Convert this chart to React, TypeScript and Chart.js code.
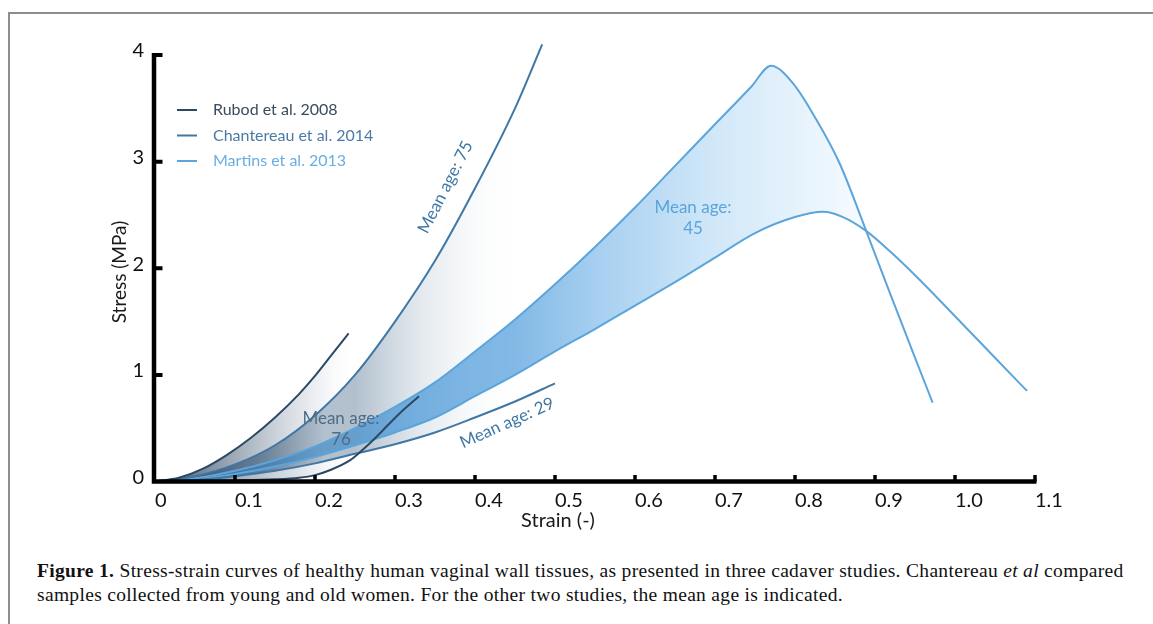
import React, { useEffect, useRef } from "react";
import { Chart, registerables } from "chart.js";
Chart.register(...registerables);

// ---- data ----
const seriesNames = ["Rubod et al. 2008", "Chantereau et al. 2014", "Martins et al. 2013"];
const xTickValues = [0, 0.1, 0.2, 0.3, 0.4, 0.5, 0.6, 0.7, 0.8, 0.9, 1.0, 1.1];
const yTickValues = [0, 1, 2, 3, 4];

const rubodUpperStrain = [0, 0.03, 0.06, 0.09, 0.12, 0.15, 0.18, 0.2, 0.22, 0.242];
const rubodUpperStress = [0, 0.035, 0.12, 0.25, 0.41, 0.6, 0.82, 0.99, 1.18, 1.39];
const rubodLowerStrain = [0, 0.05, 0.1, 0.15, 0.18, 0.2, 0.22, 0.244, 0.26, 0.277, 0.29, 0.306, 0.33];
const rubodLowerStress = [0, 0.004, 0.01, 0.02, 0.035, 0.06, 0.11, 0.2, 0.3, 0.42, 0.52, 0.64, 0.8];

const chantOldStrain = [0, 0.05, 0.1, 0.15, 0.2, 0.25, 0.3, 0.35, 0.4, 0.45, 0.484];
const chantOldStress = [0, 0.05, 0.16, 0.34, 0.62, 1.0, 1.5, 2.07, 2.75, 3.5, 4.1];
const chantYoungStrain = [0, 0.05, 0.1, 0.15, 0.2, 0.25, 0.3, 0.35, 0.4, 0.45, 0.5];
const chantYoungStress = [0, 0.015, 0.05, 0.1, 0.17, 0.26, 0.35, 0.46, 0.6, 0.75, 0.92];

const martinsUpperStrain = [0, 0.05, 0.1, 0.15, 0.2, 0.25, 0.3, 0.35, 0.4, 0.45, 0.5, 0.55, 0.6, 0.65, 0.7, 0.745, 0.77, 0.798, 0.827, 0.856, 0.888, 0.92, 0.948, 0.972];
const martinsUpperStress = [0, 0.03, 0.1, 0.2, 0.33, 0.5, 0.7, 0.93, 1.22, 1.52, 1.85, 2.2, 2.57, 2.96, 3.35, 3.7, 3.9, 3.73, 3.39, 2.98, 2.37, 1.74, 1.2, 0.74];
const martinsLowerStrain = [0, 0.05, 0.1, 0.15, 0.2, 0.25, 0.3, 0.35, 0.4, 0.45, 0.5, 0.55, 0.6, 0.65, 0.7, 0.75, 0.8, 0.835, 0.86, 0.888, 0.92, 0.952, 1.0, 1.05, 1.09];
const martinsLowerStress = [0, 0.02, 0.07, 0.14, 0.23, 0.34, 0.46, 0.6, 0.8, 1.0, 1.22, 1.43, 1.65, 1.87, 2.1, 2.33, 2.48, 2.53, 2.48, 2.355, 2.15, 1.92, 1.55, 1.16, 0.85];
const martinsCrossStrain = 0.888;

// ---- styles ----
const RUBOD = "#2c4964";
const CHANT = "#3f77a5";
const MARTINS = "#5ba5db";
const FONT = "Lato, 'Open Sans', sans-serif";

const pts = (xs: number[], ys: number[]) => xs.map((x, i) => ({ x, y: ys[i] }));
const shape = (ux: number[], uy: number[], lx: number[], ly: number[], maxX = Infinity) => [
  ...pts(ux, uy).filter((p) => p.x <= maxX),
  ...pts(lx, ly).filter((p) => p.x <= maxX).reverse(),
];

const gradient = (c: any, x0: number, x1: number, stops: [number, string][]) => {
  const chart = c.chart;
  if (!chart.chartArea) return "rgba(0,0,0,0)";
  const xs = chart.scales.x;
  const g = chart.ctx.createLinearGradient(xs.getPixelForValue(x0), 0, xs.getPixelForValue(x1), 0);
  stops.forEach(([o, col]) => g.addColorStop(o, col));
  return g;
};

const notes = [
  { lines: ["Mean age: 75"], x: 0.363, y: 2.76, angle: -63, color: CHANT },
  { lines: ["Mean age: 29"], x: 0.44, y: 0.55, angle: -24, color: CHANT },
  { lines: ["Mean age:", "76"], x: 0.2325, y: 0.49, angle: 0, color: "#4d6d87" },
  { lines: ["Mean age:", "45"], x: 0.6725, y: 2.467, angle: 0, color: MARTINS },
];
const legendColors = [RUBOD, CHANT, MARTINS];
const legendTextColors = ["#3a4b5d", "#4a7aa6", "#6aaee0"];

const overlay = {
  id: "overlay",
  afterDatasetsDraw(chart: any) {
    const { ctx, scales } = chart;
    const xs = scales.x;
    const ys = scales.y;
    const x0 = xs.getPixelForValue(0) - 1;
    const y0 = ys.getPixelForValue(0);
    const xEnd = xs.getPixelForValue(1.1);
    const yTop = ys.getPixelForValue(4);
    ctx.save();
    ctx.strokeStyle = "#000";
    ctx.lineCap = "butt";
    ctx.lineWidth = 4.5;
    ctx.beginPath();
    ctx.moveTo(x0, yTop - 2);
    ctx.lineTo(x0, y0 + 2.25);
    ctx.moveTo(x0 - 2.25, y0);
    ctx.lineTo(xEnd + 1.5, y0);
    ctx.stroke();
    ctx.lineWidth = 3.5;
    ctx.beginPath();
    xTickValues.forEach((v) => {
      if (v === 0) return;
      const p = xs.getPixelForValue(v);
      ctx.moveTo(p, y0);
      ctx.lineTo(p, y0 - 6.5);
    });
    ctx.stroke();
    ctx.lineWidth = 4;
    ctx.beginPath();
    yTickValues.forEach((v) => {
      if (v === 0) return;
      const p = ys.getPixelForValue(v);
      ctx.moveTo(x0, p);
      ctx.lineTo(x0 + 8.5, p);
    });
    ctx.stroke();

    // legend
    ctx.textAlign = "left";
    ctx.textBaseline = "middle";
    ctx.font = `16px ${FONT}`;
    seriesNames.forEach((name, i) => {
      const ly = 110 + i * 25.5;
      ctx.strokeStyle = legendColors[i];
      ctx.lineWidth = 2;
      ctx.beginPath();
      ctx.moveTo(177, ly);
      ctx.lineTo(197, ly);
      ctx.stroke();
      ctx.fillStyle = legendTextColors[i];
      ctx.fillText(name, 213, ly);
    });

    // annotations
    ctx.textAlign = "center";
    ctx.font = `17px ${FONT}`;
    notes.forEach((n) => {
      ctx.save();
      ctx.translate(xs.getPixelForValue(n.x), ys.getPixelForValue(n.y));
      ctx.rotate((n.angle * Math.PI) / 180);
      ctx.fillStyle = n.color;
      const h = 21;
      n.lines.forEach((t, i) => ctx.fillText(t, 0, (i - (n.lines.length - 1) / 2) * h));
      ctx.restore();
    });

    // axis titles
    ctx.fillStyle = "#1a1a1a";
    ctx.font = `20px ${FONT}`;
    ctx.fillText("Strain (-)", 558, 521);
    ctx.save();
    ctx.font = `19px ${FONT}`;
    ctx.translate(120, 272);
    ctx.rotate(-Math.PI / 2);
    ctx.fillText("Stress (MPa)", 0, 0);
    ctx.restore();
    ctx.restore();
  },
};

const lineDs = (label: string, xs: number[], ys: number[], color: string) => ({
  label,
  data: pts(xs, ys),
  borderColor: color,
  borderWidth: 2,
  pointRadius: 0,
  cubicInterpolationMode: "monotone",
  fill: false,
  clip: false as any,
  order: 0,
});

const fillDs = (label: string, data: any[], bg: any, order: number) => ({
  label,
  data,
  borderWidth: 0,
  borderColor: "rgba(0,0,0,0)",
  pointRadius: 0,
  tension: 0.3,
  fill: "shape",
  backgroundColor: bg,
  order,
});

export default function App() {
  const ref = useRef<HTMLCanvasElement>(null);
  useEffect(() => {
    if (!ref.current) return;
    const chart = new Chart(ref.current, {
      type: "line",
      data: {
        datasets: [
          fillDs(
            "Chantereau fill",
            shape(chantOldStrain, chantOldStress, chantYoungStrain, chantYoungStress),
            (c: any) =>
              gradient(c, 0, 0.46, [
                [0, "rgba(32,62,92,1)"],
                [0.3, "rgba(70,100,128,0.95)"],
                [0.5, "rgba(140,160,180,0.8)"],
                [0.72, "rgba(208,218,227,0.6)"],
                [1, "rgba(255,255,255,0)"],
              ]),
            30
          ),
          fillDs(
            "Rubod fill",
            shape(rubodUpperStrain, rubodUpperStress, rubodLowerStrain, rubodLowerStress),
            (c: any) =>
              gradient(c, 0, 0.25, [
                [0, "rgba(28,52,78,0.9)"],
                [0.5, "rgba(120,138,158,0.55)"],
                [0.85, "rgba(225,230,236,0.4)"],
                [1, "rgba(255,255,255,0)"],
              ]),
            20
          ),
          fillDs(
            "Martins fill",
            shape(martinsUpperStrain, martinsUpperStress, martinsLowerStrain, martinsLowerStress, martinsCrossStrain),
            (c: any) =>
              gradient(c, 0.15, 0.9, [
                [0, "rgba(50,125,190,0.55)"],
                [0.2, "rgba(70,150,215,0.72)"],
                [0.4, "rgba(95,165,222,0.78)"],
                [0.533, "rgba(140,193,236,0.78)"],
                [0.733, "rgba(198,226,247,0.8)"],
                [0.933, "rgba(235,245,253,0.8)"],
                [1, "rgba(245,250,255,0.6)"],
              ]),
            10
          ),
          lineDs(seriesNames[0], rubodUpperStrain, rubodUpperStress, RUBOD),
          lineDs(seriesNames[0], rubodLowerStrain, rubodLowerStress, RUBOD),
          lineDs(seriesNames[1], chantOldStrain, chantOldStress, CHANT),
          lineDs(seriesNames[1], chantYoungStrain, chantYoungStress, CHANT),
          lineDs(seriesNames[2], martinsUpperStrain, martinsUpperStress, MARTINS),
          lineDs(seriesNames[2], martinsLowerStrain, martinsLowerStress, MARTINS),
        ] as any,
      },
      options: {
        responsive: false,
        animation: false,
        devicePixelRatio: 1,
        events: [],
        layout: { padding: { left: 100, top: 55, right: 118, bottom: 18.5 } },
        plugins: { legend: { display: false }, tooltip: { enabled: false } },
        scales: {
          x: {
            type: "linear",
            min: 0,
            max: 1.1,
            afterFit: (s: any) => {
              s.height = 40;
            },
            afterBuildTicks: (s: any) => {
              s.ticks = xTickValues.map((v) => ({ value: v }));
            },
            grid: { display: false, drawTicks: false },
            border: { display: false },
            ticks: {
              align: "start",
              padding: 7,
              autoSkip: false,
              maxRotation: 0,
              color: "#111",
              font: { family: FONT, size: 20 },
              callback: (v: any) => (v === 0 ? "0" : Number(v).toFixed(1)),
            },
          },
          y: {
            type: "linear",
            min: 0,
            max: 4,
            afterFit: (s: any) => {
              s.width = 55;
            },
            afterBuildTicks: (s: any) => {
              s.ticks = yTickValues.map((v) => ({ value: v }));
            },
            grid: { display: false, drawTicks: false },
            border: { display: false },
            ticks: {
              padding: 11,
              labelOffset: -4,
              color: "#111",
              font: { family: FONT, size: 20 },
              callback: (v: any) => String(v),
            },
          },
        },
      } as any,
      plugins: [overlay],
    });
    return () => chart.destroy();
  }, []);

  return (
    <div style={{ position: "absolute", left: 0, top: 0, width: 1153, height: 624, background: "#fff", overflow: "hidden" }}>
      <div
        style={{
          position: "absolute",
          left: 8,
          top: 12,
          width: 1145,
          height: 612,
          borderTop: "2px solid #8d8d8d",
          borderLeft: "2px solid #8d8d8d",
        }}
      />
      <canvas ref={ref} width={1153} height={540} style={{ position: "absolute", left: 0, top: 0 }} />
      <div
        style={{
          position: "absolute",
          left: 37,
          top: 559,
          fontFamily: "'Liberation Serif', 'DejaVu Serif', serif",
          fontSize: 19.5,
          letterSpacing: "0.32px",
          lineHeight: "24px",
          color: "#111",
          whiteSpace: "nowrap",
        }}
      >
        <b>Figure 1.</b> Stress-strain curves of healthy human vaginal wall tissues, as presented in three cadaver studies. Chantereau <i>et al</i> compared
        <br />
        samples collected from young and old women. For the other two studies, the mean age is indicated.
      </div>
    </div>
  );
}
